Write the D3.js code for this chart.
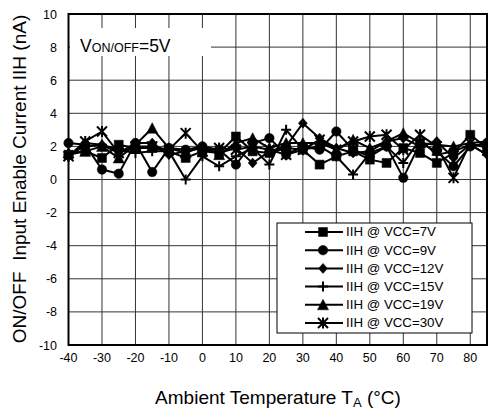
<!DOCTYPE html>
<html><head><meta charset="utf-8">
<script src="https://cdn.jsdelivr.net/npm/d3@7"></script>
<style>body{margin:0;background:#fff}svg{display:block;font-family:"Liberation Sans",Arial,sans-serif}</style>
</head><body><svg id="c" width="488" height="409"></svg>
<script>
const temps = [-40,-35,-30,-25,-20,-15,-10,-5,0,5,10,15,20,25,30,35,40,45,50,55,60,65,70,75,80,85];
const vcc7  = [1.5,1.7,1.3,2.1,1.9,1.9,1.7,1.3,1.7,1.6,2.6,1.7,1.6,1.9,1.8,0.9,1.4,1.7,1.2,1.0,1.9,1.6,1.0,1.6,2.7,1.9];
const vcc9  = [2.2,2.1,0.6,0.35,2.2,0.45,1.9,1.8,2.0,1.8,0.9,2.2,2.5,1.5,2.0,1.8,2.9,1.8,1.4,2.0,0.1,2.2,1.7,0.8,2.0,2.2];
const vcc12 = [1.4,2.2,2.1,1.6,2.2,2.2,1.5,1.7,1.9,1.6,1.9,1.0,1.7,2.0,3.4,2.5,1.9,1.6,1.7,2.3,2.5,2.0,2.3,1.3,2.1,1.5];
const vcc15 = [1.5,2.0,2.1,1.8,1.6,1.7,1.7,0.0,1.4,0.8,1.4,1.9,0.9,3.0,1.8,2.0,1.4,0.3,1.6,2.0,1.0,2.4,1.5,1.7,2.1,1.5];
const vcc19 = [1.6,1.7,2.0,1.3,2.1,3.1,1.9,1.6,2.0,1.5,2.2,2.5,1.9,2.2,2.2,2.2,1.8,2.4,1.9,2.3,2.8,2.2,2.1,2.0,2.2,2.3];
const vcc30 = [1.4,2.3,2.9,1.6,2.0,2.0,1.8,2.8,1.7,1.9,1.8,2.0,1.8,1.5,1.8,2.4,1.8,2.3,2.6,2.7,1.8,2.7,2.0,0.1,2.2,1.9];
const seriesNames = ["IIH @ VCC=7V","IIH @ VCC=9V","IIH @ VCC=12V","IIH @ VCC=15V","IIH @ VCC=19V","IIH @ VCC=30V"];
const seriesMarkers = ["square","circle","diamond","plus","triangle","star"];
const xTicks = [-40,-30,-20,-10,0,10,20,30,40,50,60,70,80];
const yTicks = [-10,-8,-6,-4,-2,0,2,4,6,8,10];
const seriesValues = [vcc7,vcc9,vcc12,vcc15,vcc19,vcc30];

const svg = d3.select("#c");
const L=68.5, R=487, T=14, B=345;
const x = d3.scaleLinear().domain([-40,85]).range([L,R]);
const y = d3.scaleLinear().domain([-10,10]).range([B,T]);

// grid
const g = svg.append("g");
g.selectAll("line.v").data(xTicks.slice(1)).join("line")
  .attr("x1",d=>x(d)).attr("x2",d=>x(d)).attr("y1",T).attr("y2",B)
  .attr("stroke","#333").attr("stroke-width",1);
g.selectAll("line.h").data(yTicks.slice(1,-1)).join("line")
  .attr("x1",L).attr("x2",R).attr("y1",d=>y(d)).attr("y2",d=>y(d))
  .attr("stroke","#333").attr("stroke-width",1);

// axes labels
svg.append("g").selectAll("text").data(xTicks).join("text")
  .attr("x",d=>x(d)).attr("y",362).attr("text-anchor","middle")
  .attr("font-size",12.5).text(d=>d);
svg.append("g").selectAll("text").data(yTicks).join("text")
  .attr("x",57).attr("y",d=>y(d)+4.5).attr("text-anchor","end")
  .attr("font-size",12.5).text(d=>d);

// frame
svg.append("rect").attr("x",L).attr("y",T).attr("width",R-L).attr("height",B-T)
  .attr("fill","none").attr("stroke","#000").attr("stroke-width",2);

// V label box
svg.append("rect").attr("x",70).attr("y",28).attr("width",141).attr("height",28).attr("fill","#fff");
const vt = svg.append("text").attr("x",80).attr("y",52).attr("font-size",17.5);
vt.append("tspan").text("V");
vt.append("tspan").attr("font-size",12.5).text("ON/OFF");
vt.append("tspan").text("=5V");

function markerPath(type, s){
  const h=s/2;
  switch(type){
    case "square": return `M${-h},${-h}H${h}V${h}H${-h}Z`;
    case "circle": return d3.symbol(d3.symbolCircle, Math.PI*h*h)();
    case "diamond": return `M0,${-h-0.5}L${h},0L0,${h+0.5}L${-h},0Z`;
    case "triangle": return `M0,${-h-0.5}L${h+0.5},${h}L${-h-0.5},${h}Z`;
    case "plus": return `M${-h},0H${h}M0,${-h}V${h}`;
    case "star": return `M${-h},${-h}L${h},${h}M${h},${-h}L${-h},${h}M0,${-h-0.5}V${h+0.5}`;
  }
}
function drawMarker(sel, type){
  const filled = !(type==="plus"||type==="star");
  const sizes={square:9,circle:9.5,diamond:9,triangle:10,plus:10,star:10};
  sel.append("path").attr("d",markerPath(type,sizes[type]))
    .attr("fill",filled?"#000":"none").attr("stroke","#000")
    .attr("stroke-width",filled?0.5:2);
}

const line = d3.line().x(d=>x(d[0])).y(d=>y(d[1]));
const plot = svg.append("g");
seriesValues.forEach((vals,i)=>{
  const pts = temps.map((t,j)=>[t,vals[j]]);
  plot.append("path").attr("d",line(pts)).attr("fill","none")
    .attr("stroke","#000").attr("stroke-width",2);
  pts.forEach(p=>{
    const m = plot.append("g").attr("transform",`translate(${x(p[0])},${y(p[1])})`);
    drawMarker(m, seriesMarkers[i]);
  });
});

// legend
const lg = svg.append("g");
lg.append("rect").attr("x",277).attr("y",223).attr("width",195).attr("height",110)
  .attr("fill","#fff").attr("stroke","#000").attr("stroke-width",1);
seriesNames.forEach((n,i)=>{
  const yy = 232 + i*18.2;
  lg.append("line").attr("x1",305).attr("x2",343).attr("y1",yy).attr("y2",yy)
    .attr("stroke","#000").attr("stroke-width",2);
  const m = lg.append("g").attr("transform",`translate(323,${yy})`);
  drawMarker(m, seriesMarkers[i]);
  lg.append("text").attr("x",346).attr("y",yy+4.3).attr("font-size",13.3).text(n);
});

// axis titles
const xt = svg.append("text").attr("x",278).attr("y",404).attr("text-anchor","middle").attr("font-size",19);
xt.append("tspan").text("Ambient Temperature T");
xt.append("tspan").attr("font-size",13).attr("dy",3).text("A");
xt.append("tspan").attr("dy",-3).text(" (°C)");
svg.append("text").attr("transform","translate(26,179) rotate(-90)").attr("text-anchor","middle")
  .attr("font-size",19).attr("xml:space","preserve").style("white-space","pre")
  .text("ON/OFF  Input Enable Current IIH (nA)");
</script></body></html>
